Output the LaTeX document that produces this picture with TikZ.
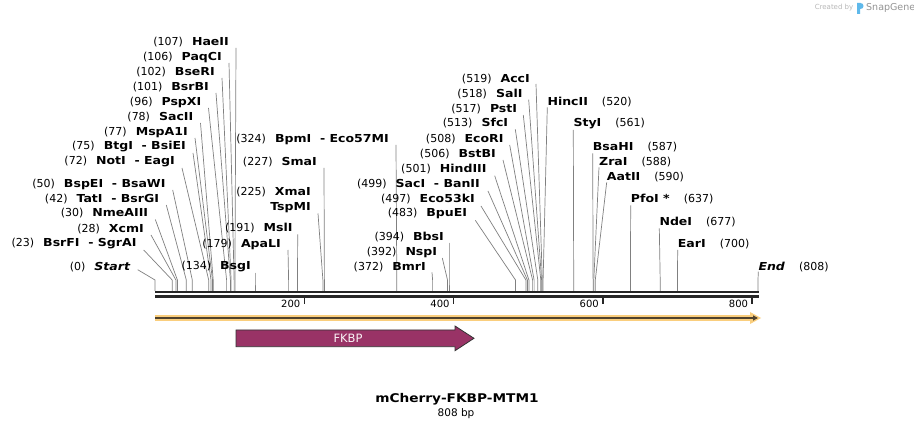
\documentclass[tikz,border=0pt]{standalone}
\usepackage{fontspec}
\setmainfont{DejaVu Sans}[BoldFeatures={FakeStretch=1.14},BoldItalicFeatures={FakeStretch=1.14}]
\usetikzlibrary{arrows.meta}
\definecolor{cutgray}{RGB}{128,128,128}
\definecolor{fkbpred}{RGB}{153,51,102}
\definecolor{featorange}{RGB}{250,206,125}
\definecolor{featdark}{RGB}{80,66,45}
\definecolor{snapblue}{RGB}{95,185,235}
\newcommand{\sitel}[2]{#1\hspace{9pt}\textbf{#2}}
\newcommand{\siter}[2]{\textbf{#1}\hspace{14pt}#2}
\begin{document}
\begin{tikzpicture}[x=1pt, y=-1pt,
    cut/.style={draw=cutgray, line width=0.7pt},
    lsite/.style={anchor=east, inner sep=0pt, font=\fontsize{11}{13}\selectfont},
    rsite/.style={anchor=west, inner sep=0pt, font=\fontsize{11}{13}\selectfont},
    tick/.style={draw=black!85, line width=1.6pt},
    ticklbl/.style={anchor=east, inner sep=0pt, font=\fontsize{10}{12}\selectfont}]
  \fill[white] (0,0) rectangle (914,430);
  \useasboundingbox (0,0) rectangle (914,430);
  \coordinate (bb) at (0,291);

  % left-hand labels
  \node[lsite] (haeii) at (229,42) {\sitel{(107)}{HaeII}};
  \draw[cut] ([shift={(7,6)}]haeii.east) -- (234.9,280) coordinate (c107) -- (c107 |- bb);
  \node[lsite] (paqci) at (222,57) {\sitel{(106)}{PaqCI}};
  \draw[cut] ([shift={(7,6)}]paqci.east) -- (234.1,280) coordinate (c106) -- (c106 |- bb);
  \node[lsite] (bseri) at (215,72) {\sitel{(102)}{BseRI}};
  \draw[cut] ([shift={(7,6)}]bseri.east) -- (231.1,280) coordinate (c102) -- (c102 |- bb);
  \node[lsite] (bsrbi) at (209,87) {\sitel{(101)}{BsrBI}};
  \draw[cut] ([shift={(7,6)}]bsrbi.east) -- (230.4,280) coordinate (c101) -- (c101 |- bb);
  \node[lsite] (pspxi) at (201.5,102) {\sitel{(96)}{PspXI}};
  \draw[cut] ([shift={(7,6)}]pspxi.east) -- (226.6,280) coordinate (c96) -- (c96 |- bb);
  \node[lsite] (sacii) at (193.5,117) {\sitel{(78)}{SacII}};
  \draw[cut] ([shift={(7,6)}]sacii.east) -- (213.2,280) coordinate (c78) -- (c78 |- bb);
  \node[lsite] (mspa) at (188,132) {\sitel{(77)}{MspA1I}};
  \draw[cut] ([shift={(7,6)}]mspa.east) -- (212.5,280) coordinate (c77) -- (c77 |- bb);
  \node[lsite] (btgi) at (186,147) {\sitel{(75)}{BtgI\ \ - BsiEI}};
  \draw[cut] ([shift={(7,6)}]btgi.east) -- (211.0,280) coordinate (c75) -- (c75 |- bb);
  \node[lsite] (noti) at (175,162) {\sitel{(72)}{NotI\ \ - EagI}};
  \draw[cut] ([shift={(7,6)}]noti.east) -- (208.7,280) coordinate (c72) -- (c72 |- bb);
  \node[lsite] (bspei) at (165.7,184) {\sitel{(50)}{BspEI\ \ - BsaWI}};
  \draw[cut] ([shift={(7,6)}]bspei.east) -- (192.3,280) coordinate (c50) -- (c50 |- bb);
  \node[lsite] (tati) at (159.3,199) {\sitel{(42)}{TatI\ \ - BsrGI}};
  \draw[cut] ([shift={(7,6)}]tati.east) -- (186.3,280) coordinate (c42) -- (c42 |- bb);
  \node[lsite] (nmeaiii) at (148.3,213.5) {\sitel{(30)}{NmeAIII}};
  \draw[cut] ([shift={(7,6)}]nmeaiii.east) -- (177.4,280) coordinate (c30) -- (c30 |- bb);
  \node[lsite] (xcmi) at (144,229) {\sitel{(28)}{XcmI}};
  \draw[cut] ([shift={(7,6)}]xcmi.east) -- (175.9,280) coordinate (c28) -- (c28 |- bb);
  \node[lsite] (bsrfi) at (136.7,244) {\sitel{(23)}{BsrFI\ \ - SgrAI}};
  \draw[cut] ([shift={(7,6)}]bsrfi.east) -- (172.2,280) coordinate (c23) -- (c23 |- bb);
  \node[lsite] (startsite) at (130.7,266.7) {\sitel{(0)}{\itshape Start}};
  \draw[cut] ([shift={(7,3)}]startsite.east) -- (155,280) coordinate (c0) -- (c0 |- bb);

  % middle labels
  \node[lsite] (bpmi) at (389,139) {\sitel{(324)}{BpmI\ \ - Eco57MI}};
  \draw[cut] ([shift={(7,6)}]bpmi.east) -- (396.8,280) coordinate (c324) -- (c324 |- bb);
  \node[lsite] (smai) at (317,162) {\sitel{(227)}{SmaI}};
  \draw[cut] ([shift={(7,6)}]smai.east) -- (324.4,280) coordinate (c227) -- (c227 |- bb);
  \node[lsite] (xmai) at (311,192) {\sitel{(225)}{XmaI}};
  \node[lsite] (tspmi) at (311,207.5) {\textbf{TspMI}};
  \draw[cut] ([shift={(7,6)}]tspmi.east) -- (322.9,280) coordinate (c225) -- (c225 |- bb);
  \node[lsite] (msli) at (292.7,228.5) {\sitel{(191)}{MslI}};
  \draw[cut] ([shift={(5,6)}]msli.east) -- (297.5,280) coordinate (c191) -- (c191 |- bb);
  \node[lsite] (apali) at (281,244) {\sitel{(179)}{ApaLI}};
  \draw[cut] ([shift={(7,6)}]apali.east) -- (288.6,280) coordinate (c179) -- (c179 |- bb);
  \node[lsite] (bsgi) at (251,266.7) {\sitel{(134)}{BsgI}};
  \draw[cut] ([shift={(4,6)}]bsgi.east) -- (255.0,280) coordinate (c134) -- (c134 |- bb);
  \node[lsite] (bbsi) at (444,236.7) {\sitel{(394)}{BbsI}};
  \draw[cut] ([shift={(5,6)}]bbsi.east) -- (449.0,280) coordinate (c394) -- (c394 |- bb);
  \node[lsite] (nspi) at (437.3,252) {\sitel{(392)}{NspI}};
  \draw[cut] ([shift={(5,6)}]nspi.east) -- (447.5,280) coordinate (c392) -- (c392 |- bb);
  \node[lsite] (bmri) at (426,267.3) {\sitel{(372)}{BmrI}};
  \draw[cut] ([shift={(6,5)}]bmri.east) -- (432.6,280) coordinate (c372) -- (c372 |- bb);

  % cluster near 500
  \node[lsite] (acci) at (530,79) {\sitel{(519)}{AccI}};
  \draw[cut] ([shift={(6,5)}]acci.east) -- (542.3,280) coordinate (c519) -- (c519 |- bb);
  \node[lsite] (sali) at (522.7,93.7) {\sitel{(518)}{SalI}};
  \draw[cut] ([shift={(6,6)}]sali.east) -- (541.6,280) coordinate (c518) -- (c518 |- bb);
  \node[lsite] (psti) at (517.3,109) {\sitel{(517)}{PstI}};
  \draw[cut] ([shift={(6,6)}]psti.east) -- (540.8,280) coordinate (c517) -- (c517 |- bb);
  \node[lsite] (sfci) at (508.3,123.3) {\sitel{(513)}{SfcI}};
  \draw[cut] ([shift={(7,6)}]sfci.east) -- (537.8,280) coordinate (c513) -- (c513 |- bb);
  \node[lsite] (ecori) at (503.7,139) {\sitel{(508)}{EcoRI}};
  \draw[cut] ([shift={(6,6)}]ecori.east) -- (534.1,280) coordinate (c508) -- (c508 |- bb);
  \node[lsite] (bstbi) at (496,154) {\sitel{(506)}{BstBI}};
  \draw[cut] ([shift={(7,6)}]bstbi.east) -- (532.6,280) coordinate (c506) -- (c506 |- bb);
  \node[lsite] (hindiii) at (486.7,168.7) {\sitel{(501)}{HindIII}};
  \draw[cut] ([shift={(8,7)}]hindiii.east) -- (528.9,280) coordinate (c501) -- (c501 |- bb);
  \node[lsite] (saci) at (480,184) {\sitel{(499)}{SacI\ \ - BanII}};
  \draw[cut] ([shift={(8,7)}]saci.east) -- (527.4,280) coordinate (c499) -- (c499 |- bb);
  \node[lsite] (ecoki) at (475,199) {\sitel{(497)}{Eco53kI}};
  \draw[cut] ([shift={(6,7)}]ecoki.east) -- (525.9,280) coordinate (c497) -- (c497 |- bb);
  \node[lsite] (bpuei) at (467.3,213.3) {\sitel{(483)}{BpuEI}};
  \draw[cut] ([shift={(8,7)}]bpuei.east) -- (515.5,280) coordinate (c483) -- (c483 |- bb);

  % right-hand labels
  \node[rsite] (hincii) at (547.3,102.3) {\siter{HincII}{(520)}};
  \draw[cut] ([shift={(0,5)}]hincii.west) -- (543.1,280) coordinate (c520) -- (c520 |- bb);
  \node[rsite] (styi) at (573.3,124) {\siter{StyI}{(561)}};
  \draw[cut] ([shift={(0,6)}]styi.west) -- (573.7,280) coordinate (c561) -- (c561 |- bb);
  \node[rsite] (bsahi) at (592.7,147.3) {\siter{BsaHI}{(587)}};
  \draw[cut] ([shift={(0,6)}]bsahi.west) -- (593.1,280) coordinate (c587) -- (c587 |- bb);
  \node[rsite] (zrai) at (599,162.3) {\siter{ZraI}{(588)}};
  \draw[cut] ([shift={(0,5)}]zrai.west) -- (593.8,280) coordinate (c588) -- (c588 |- bb);
  \node[rsite] (aatii) at (606.7,177.3) {\siter{AatII}{(590)}};
  \draw[cut] ([shift={(0,5)}]aatii.west) -- (595.3,280) coordinate (c590) -- (c590 |- bb);
  \node[rsite] (pfoi) at (630.7,199.3) {\siter{PfoI *}{(637)}};
  \draw[cut] ([shift={(0,6)}]pfoi.west) -- (630.4,280) coordinate (c637) -- (c637 |- bb);
  \node[rsite] (ndei) at (659.3,222.3) {\siter{NdeI}{(677)}};
  \draw[cut] ([shift={(0,6)}]ndei.west) -- (660.2,280) coordinate (c677) -- (c677 |- bb);
  \node[rsite] (eari) at (677.7,244) {\siter{EarI}{(700)}};
  \draw[cut] ([shift={(0,6)}]eari.west) -- (677.4,280) coordinate (c700) -- (c700 |- bb);
  \node[rsite] (endsite) at (758.3,266.7) {\siter{\itshape End}{(808)}};
  \draw[cut] ([shift={(0,5)}]endsite.west) -- (758,280) coordinate (c808) -- (c808 |- bb);

  % backbone and scale
  \draw[line width=2.4pt, black!85] (155,292) -- (758.6,292);
  \draw[line width=2.4pt, black!85] (155,296.5) -- (758.6,296.5);
  \draw[tick] (304.3,297) -- (304.3,304.5);
  \node[ticklbl] (n200) at (300.5,303.5) {200};
  \draw[tick] (453.5,297) -- (453.5,304.5);
  \node[ticklbl] (n400) at (449.7,303.5) {400};
  \draw[tick] (602.8,297) -- (602.8,304.5);
  \node[ticklbl] (n600) at (599,303.5) {600};
  \draw[tick] (752,297) -- (752,304.5);
  \node[ticklbl] (n800) at (748.2,303.5) {800};

  % full-length feature
  \draw[featorange, line width=5.5pt] (155,318) -- (753,318);
  \fill[featorange] (750,312) -- (761,318) -- (750,324) -- cycle;
  \draw[featdark, line width=1.3pt, -{Triangle[length=5pt, width=5pt]}] (155,318) -- (758,318);

  % FKBP feature
  \draw[fill=fkbpred, draw=black!80, line width=0.8pt]
    (236,330) -- (455,330) -- (455,326) -- (474,338.3) -- (455,350.7) -- (455,346.7) -- (236,346.7) -- cycle;
  \node[text=white!94!fkbpred, font=\fontsize{11.5}{13}\selectfont] (fkbp) at (348,338.3) {FKBP};

  % name and size
  \node[font=\bfseries\fontsize{12}{14}\selectfont] (title) at (457,399.3) {mCherry-FKBP-MTM1};
  \node[font=\fontsize{10.5}{12}\selectfont] (bp) at (456,413.5) {808 bp};

  % credit
  \node[anchor=east, inner sep=0pt, text=black!28, font=\fontsize{7}{8}\selectfont] (credit) at (853.5,7.5) {Created by};
  \fill[snapblue] (857,14) -- (857,3) -- (860.5,3) .. controls (864.5,3) and (864.5,9) .. (860.5,9) -- (860,9) -- (860,14) -- cycle;
  \node[anchor=west, inner sep=0pt, text=black!42, font=\fontsize{9.5}{11}\selectfont] (snapgene) at (866,7.5) {SnapGene};
\end{tikzpicture}
\end{document}
